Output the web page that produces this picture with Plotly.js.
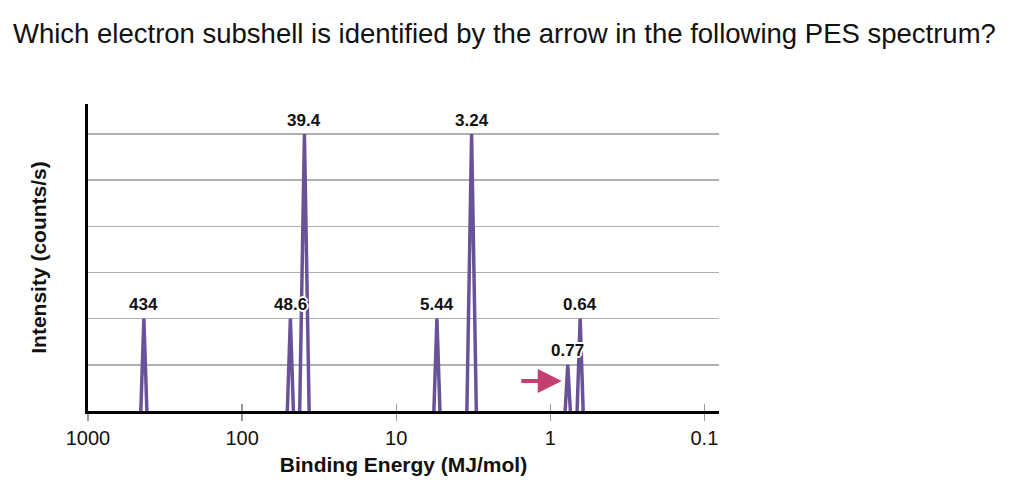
<!DOCTYPE html>
<html>
<head>
<meta charset="utf-8">
<script src="https://cdn.plot.ly/plotly-3.0.1.min.js"></script>
<style>
  html, body { margin: 0; padding: 0; background: #fff; }
  #chart { width: 1024px; height: 494px; }
</style>
</head>
<body>
<div id="chart"></div>
<script>
// PES peaks: binding energy (MJ/mol) and relative intensity
const energies = [434, 48.6, 39.4, 5.44, 3.24, 0.77, 0.64];
const heights = [2, 2, 6, 2, 6, 1, 2];
const peakLabels = ['434', '48.6', '39.4', '5.44', '3.24', '0.77', '0.64'];
const tickVals = [1000, 100, 10, 1, 0.1];
const tickText = ['1000', '100', '10', '1', '0.1'];
const arrowPeak = 0.77;   // peak the arrow points at
const arrowLevel = 0.65;  // height of the arrow, intensity units

const purple = '#6a5299';
const font = '"Liberation Sans", Arial, Helvetica, sans-serif';
const pxPerDecade = 154;

// each peak drawn as a thin triangle, base width grows a bit with height
const xs = [], ys = [];
energies.forEach((e, i) => {
  const hw = (2.2 + 0.42 * heights[i]) / pxPerDecade;
  xs.push(e * Math.pow(10, hw), e, e / Math.pow(10, hw), null);
  ys.push(0, heights[i], 0, null);
});

const labelShadow = '2px 0 0 #fff, -2px 0 0 #fff, 0 2px 0 #fff, 0 -2px 0 #fff, 1px 1px 0 #fff, -1px -1px 0 #fff, 1px -1px 0 #fff, -1px 1px 0 #fff';

const annotations = energies.map((e, i) => ({
  x: Math.log10(e), y: heights[i],
  xref: 'x', yref: 'y',
  text: '<b>' + peakLabels[i] + '</b>',
  showarrow: false,
  yanchor: 'middle', yshift: 14,
  font: { family: font, size: 17, color: '#111', shadow: labelShadow },
}));

annotations.push({
  x: Math.log10(arrowPeak), y: arrowLevel,
  xref: 'x', yref: 'y',
  text: '',
  showarrow: true,
  arrowhead: 2, arrowsize: 1.2, arrowwidth: 4,
  arrowcolor: '#c23f6f',
  ax: -42, ay: 0, standoff: 0,
  xshift: -6,
});

const data = [{
  x: xs, y: ys,
  type: 'scatter',
  mode: 'lines',
  line: { color: purple, width: 3.5 },
  hoverinfo: 'skip',
  showlegend: false,
}];

const layout = {
  width: 1024, height: 494,
  paper_bgcolor: '#fff',
  plot_bgcolor: '#fff',
  margin: { t: 104, r: 305, b: 83, l: 88, pad: 0 },
  title: {
    text: 'Which electron subshell is identified by the arrow in the following PES spectrum?',
    font: { family: font, size: 27.5, color: '#111' },
    xref: 'container', yref: 'container',
    x: 13 / 1024, xanchor: 'left',
    y: 1 - 33 / 494, yanchor: 'middle',
  },
  xaxis: {
    type: 'log',
    range: [3, -1.095],
    tickvals: tickVals,
    ticktext: tickText,
    ticks: 'outside', ticklen: 7, tickwidth: 1.2, tickcolor: '#999',
    tickfont: { family: font, size: 20, color: '#111' },
    showgrid: false, zeroline: false,
    showline: true, linecolor: '#000', linewidth: 3,
    title: {
      text: '<b>Binding Energy (MJ/mol)</b>',
      font: { family: font, size: 21, color: '#111' },
      standoff: 10,
    },
  },
  xaxis2: {
    type: 'log',
    overlaying: 'x', matches: 'x',
    range: [3, -1.095],
    tickvals: tickVals,
    ticks: 'inside', ticklen: 7, tickwidth: 1.2, tickcolor: '#999',
    showticklabels: false, showgrid: false, zeroline: false, showline: false,
    anchor: 'y', side: 'bottom',
  },
  yaxis: {
    range: [0, 6.65],
    dtick: 1, tick0: 0,
    showticklabels: false, ticks: '',
    showgrid: true, gridcolor: '#b0b0b0', gridwidth: 1.5,
    zeroline: false,
    showline: true, linecolor: '#000', linewidth: 3,
    title: {
      text: '<b>Intensity (counts/s)</b>',
      font: { family: font, size: 21, color: '#111' },
      standoff: 33,
    },
  },
  annotations: annotations,
};

// dummy trace so the overlay axis with inside ticks is drawn
data.push({ x: [1], y: [null], xaxis: 'x2', yaxis: 'y', showlegend: false, hoverinfo: 'skip' });

Plotly.newPlot('chart', data, layout, { displayModeBar: false, staticPlot: true });
</script>
</body>
</html>
